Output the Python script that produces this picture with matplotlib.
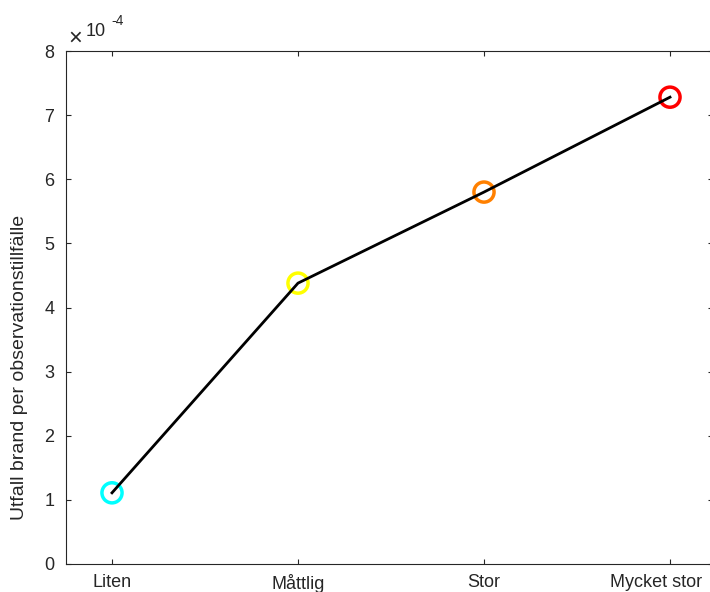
import matplotlib
matplotlib.use("Agg")
import matplotlib.pyplot as plt
from matplotlib.transforms import ScaledTranslation

categories = ["Liten", "Måttlig", "Stor", "Mycket stor"]
values = [1.11e-4, 4.38e-4, 5.80e-4, 7.28e-4]
marker_colors = ["#00ffff", "#ffff00", "#ff8000", "#ff0000"]
yticks = [0, 1e-4, 2e-4, 3e-4, 4e-4, 5e-4, 6e-4, 7e-4, 8e-4]
ytick_labels = ["0", "1", "2", "3", "4", "5", "6", "7", "8"]
ylabel = "Utfall brand per observationstillfälle"

plt.rcParams['font.family'] = ['Liberation Sans', 'DejaVu Sans']

W, H = 710, 592
left, right, top, bottom = 66, 713, 51, 564
fig = plt.figure(figsize=(W / 100, H / 100), dpi=100)
ax = fig.add_axes([left / W, (H - bottom) / H, (right - left) / W, (bottom - top) / H])

x = list(range(1, len(categories) + 1))
ax.plot(x, values, color="black", linewidth=2, zorder=3)
ax.scatter(x, values, s=210, facecolors="none", edgecolors=marker_colors,
           linewidths=2.5, zorder=2)

# tick spacing 186 px, first tick 46 px from left spine
span = (right - left) / 186.0
x0 = 1 - 46 / 186.0
ax.set_xlim(x0, x0 + span)
ax.set_ylim(0, 8e-4)
ax.set_xticks(x)
ax.set_xticklabels(categories)
ax.set_yticks(yticks)
ax.set_yticklabels(ytick_labels)

for s in ax.spines.values():
    s.set_color("#262626")
    s.set_linewidth(0.8)
ax.tick_params(direction="in", length=3.6, width=0.8, colors="#262626",
               labelsize=13, top=True, right=True)
ax.tick_params(axis="x", pad=7.5)
ax.tick_params(axis="y", pad=8.5)
for lab in ax.get_xticklabels() + ax.get_yticklabels():
    lab.set_color("#262626")

# last label is pulled inside the figure edge, as in the reference
last = ax.get_xticklabels()[-1]
last.set_transform(last.get_transform() + ScaledTranslation(-0.14, 0, fig.dpi_scale_trans))

fig.text(20 / W, (H - 367) / H, ylabel, rotation=90, ha="center", va="center",
         fontsize=14, color="#262626")
fig.text(75 / W, (H - 38.5) / H, "×", fontsize=17, color="#262626",
         ha="center", va="center")
fig.text(86 / W, (H - 36) / H, "10", fontsize=13, color="#262626",
         ha="left", va="baseline")
fig.text(111 / W, (H - 25) / H, "-4", fontsize=10, color="#262626",
         ha="left", va="baseline")

fig.savefig("out.png", dpi=100)
